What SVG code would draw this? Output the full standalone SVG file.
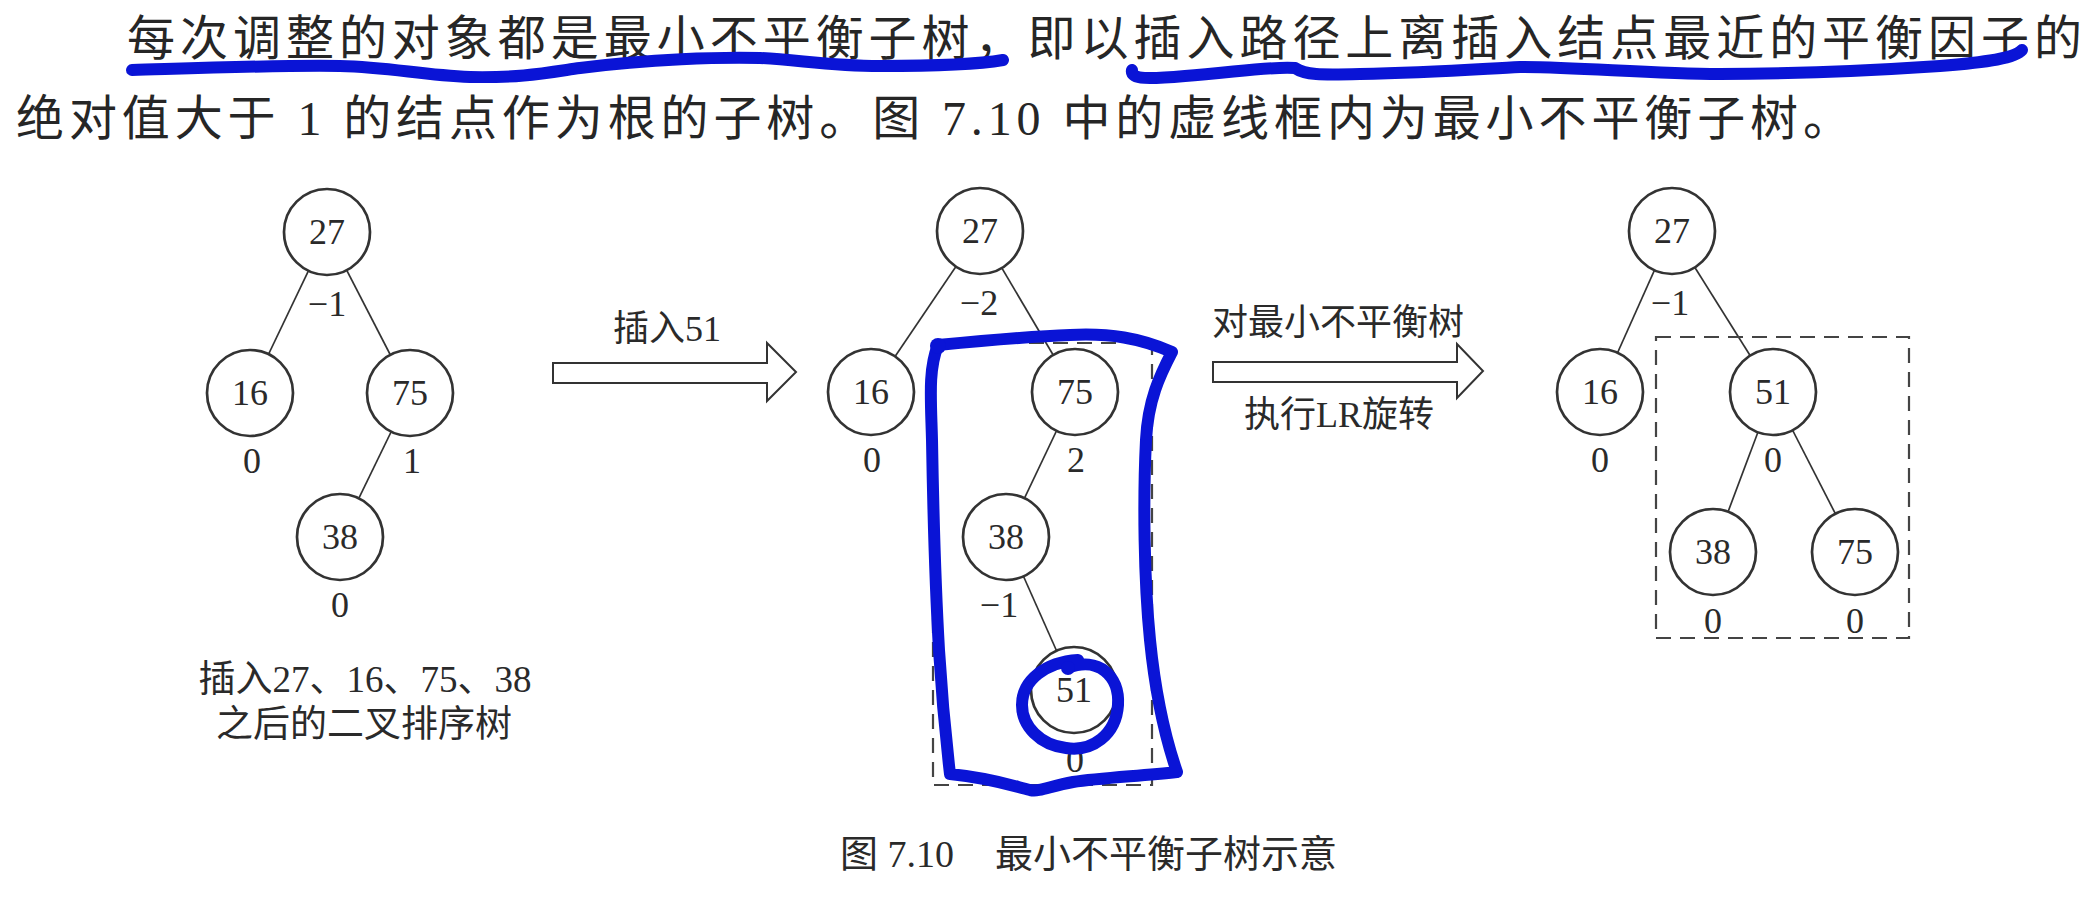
<svg xmlns="http://www.w3.org/2000/svg" width="2099" height="897" viewBox="0 0 2099 897">
<style>
.bg{fill:#ffffff}
.para{font-family:"Liberation Serif","Noto Sans CJK SC",serif;font-size:48px;fill:#262626}
.lbl{font-family:"Liberation Serif","Noto Sans CJK SC",serif;font-size:36px;fill:#2a2a2a;text-anchor:middle}
.cap{font-family:"Liberation Serif","Noto Sans CJK SC",serif;font-size:37px;fill:#2a2a2a;text-anchor:middle}
.fig{font-family:"Liberation Serif","Noto Sans CJK SC",serif;font-size:38px;fill:#2a2a2a}
.node circle{fill:#ffffff;stroke:#333333;stroke-width:2.7}
.node text{font-family:"Liberation Serif",serif;font-size:36px;fill:#2a2a2a;text-anchor:middle}
.bf{font-family:"Liberation Serif",serif;font-size:35px;fill:#2a2a2a;text-anchor:middle}
.edge{stroke:#333333;stroke-width:1.7;fill:none}
.arrow{fill:#ffffff;stroke:#333333;stroke-width:2}
.dash{fill:none;stroke:#444444;stroke-width:2.2;stroke-dasharray:15 9}
.ink{fill:none;stroke:#0a14d6;stroke-width:12;stroke-linecap:round;stroke-linejoin:round}
</style>
<rect class="bg" x="0" y="0" width="2099" height="897"/>

<g id="paragraph">
<text class="para" x="127" y="55" textLength="1955" lengthAdjust="spacing">每次调整的对象都是最小不平衡子树，即以插入路径上离插入结点最近的平衡因子的</text>
<text class="para" x="16" y="135" textLength="1835" lengthAdjust="spacing">绝对值大于 1 的结点作为根的子树。图 7.10 中的虚线框内为最小不平衡子树。</text>
</g>

<g id="connectors">
<line class="edge" x1="327" y1="232" x2="250" y2="393"/>
<line class="edge" x1="327" y1="232" x2="410" y2="393"/>
<line class="edge" x1="410" y1="393" x2="340" y2="537"/>
<line class="edge" x1="980" y1="231" x2="871" y2="392"/>
<line class="edge" x1="980" y1="231" x2="1075" y2="392"/>
<line class="edge" x1="1075" y1="392" x2="1006" y2="537"/>
<line class="edge" x1="1006" y1="537" x2="1074" y2="690"/>
<line class="edge" x1="1672" y1="231" x2="1600" y2="392"/>
<line class="edge" x1="1672" y1="231" x2="1773" y2="392"/>
<line class="edge" x1="1773" y1="392" x2="1713" y2="552"/>
<line class="edge" x1="1773" y1="392" x2="1855" y2="552"/>
</g>

<g id="dashed-boxes">
<rect class="dash" x="933" y="343" width="219" height="442"/>
<rect class="dash" x="1656" y="337" width="253" height="301"/>
</g>

<g id="tree1">
<g id="t1-27" class="node"><circle cx="327" cy="232" r="43"/><text x="327" y="244">27</text><text class="bf" x="327" y="316">−1</text></g>
<g id="t1-16" class="node"><circle cx="250" cy="393" r="43"/><text x="250" y="405">16</text><text class="bf" x="252" y="473">0</text></g>
<g id="t1-75" class="node"><circle cx="410" cy="393" r="43"/><text x="410" y="405">75</text><text class="bf" x="412" y="473">1</text></g>
<g id="t1-38" class="node"><circle cx="340" cy="537" r="43"/><text x="340" y="549">38</text><text class="bf" x="340" y="617">0</text></g>
<g id="t1-caption">
<text class="cap" x="365" y="692">插入27、16、75、38</text>
<text class="cap" x="364" y="737">之后的二叉排序树</text>
</g>
</g>

<g id="arrow1">
<polygon class="arrow" points="553,363 767,363 767,343 796,372 767,401 767,383 553,383"/>
<text class="lbl" x="667" y="341">插入51</text>
</g>

<g id="tree2">
<g id="t2-27" class="node"><circle cx="980" cy="231" r="43"/><text x="980" y="243">27</text><text class="bf" x="979" y="315">−2</text></g>
<g id="t2-16" class="node"><circle cx="871" cy="392" r="43"/><text x="871" y="404">16</text><text class="bf" x="872" y="472">0</text></g>
<g id="t2-75" class="node"><circle cx="1075" cy="392" r="43"/><text x="1075" y="404">75</text><text class="bf" x="1076" y="472">2</text></g>
<g id="t2-38" class="node"><circle cx="1006" cy="537" r="43"/><text x="1006" y="549">38</text><text class="bf" x="999" y="617">−1</text></g>
<g id="t2-51" class="node"><circle cx="1074" cy="690" r="43"/><text x="1074" y="702">51</text><text class="bf" x="1075" y="772">0</text></g>
</g>

<g id="arrow2">
<polygon class="arrow" points="1213,362 1457,362 1457,344 1483,371 1457,398 1457,382 1213,382"/>
<text class="lbl" x="1338" y="335">对最小不平衡树</text>
<text class="lbl" x="1339" y="427">执行LR旋转</text>
</g>

<g id="tree3">
<g id="t3-27" class="node"><circle cx="1672" cy="231" r="43"/><text x="1672" y="243">27</text><text class="bf" x="1670" y="315">−1</text></g>
<g id="t3-16" class="node"><circle cx="1600" cy="392" r="43"/><text x="1600" y="404">16</text><text class="bf" x="1600" y="472">0</text></g>
<g id="t3-51" class="node"><circle cx="1773" cy="392" r="43"/><text x="1773" y="404">51</text><text class="bf" x="1773" y="472">0</text></g>
<g id="t3-38" class="node"><circle cx="1713" cy="552" r="43"/><text x="1713" y="564">38</text><text class="bf" x="1713" y="633">0</text></g>
<g id="t3-75" class="node"><circle cx="1855" cy="552" r="43"/><text x="1855" y="564">75</text><text class="bf" x="1855" y="633">0</text></g>
</g>

<g id="figure-caption">
<text class="fig" x="840" y="867">图 7.10</text>
<text class="fig" x="995" y="867">最小不平衡子树示意</text>
</g>

<g id="annotations">
<path class="ink" d="M132,70 C200,68 280,65 340,66 C390,67 420,75 470,77 C520,78 545,73 580,68 C650,59 720,57 760,58 C800,60 830,66 880,66 C940,66 980,64 1003,60"/>
<path class="ink" d="M1132,70 C1130,80 1150,79 1185,76 C1230,73 1270,66 1295,68 C1305,75 1320,75 1360,74 C1430,73 1480,69 1520,67 C1580,67 1650,74 1720,74 C1800,74 1880,70 1940,66 C1990,62 2015,58 2022,50"/>
<path class="ink" d="M938,345 C990,340 1040,336 1070,335 C1110,333 1140,338 1172,352 C1160,375 1148,400 1146,440 C1143,500 1144,580 1150,640 C1156,700 1166,740 1177,772 C1140,776 1100,778 1073,782 C1050,786 1040,792 1030,790 C1010,785 990,778 950,774 C946,740 942,700 939,650 C935,580 933,500 932,440 C931,400 928,370 938,345 Z"/>
<circle cx="938" cy="346" r="8" fill="#0a14d6"/>
<path class="ink" d="M1068,668 C1098,656 1120,676 1118,705 C1116,735 1092,752 1066,748 C1040,745 1022,726 1022,705 C1022,680 1046,662 1078,660"/>
<circle cx="1068" cy="668" r="7" fill="#0a14d6"/>
</g>
</svg>
